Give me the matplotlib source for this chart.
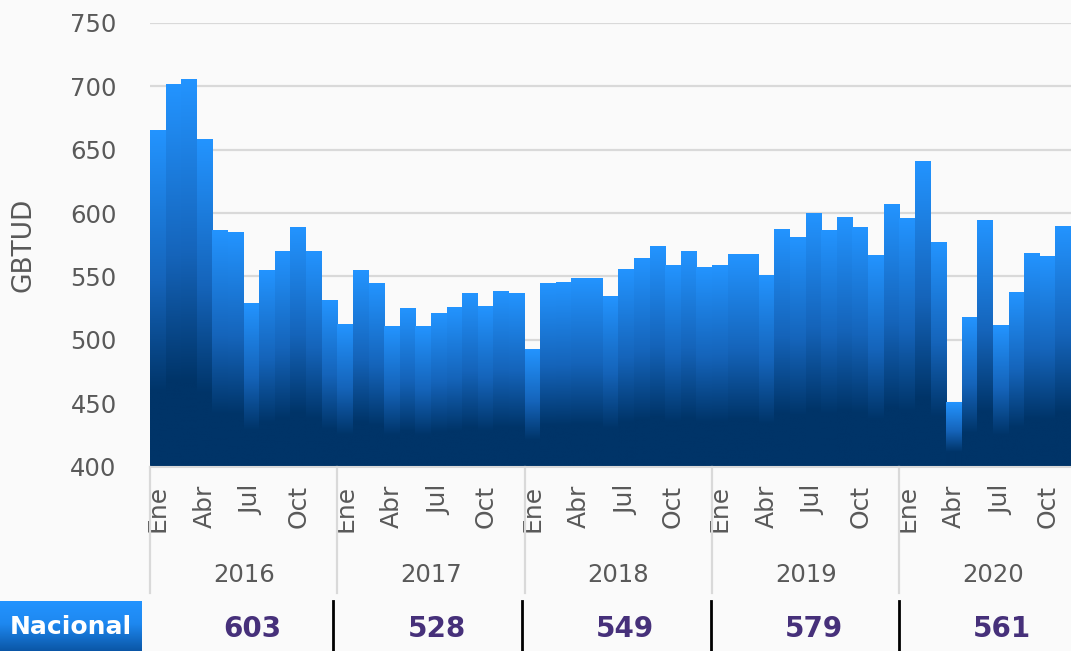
import numpy as np
import matplotlib
matplotlib.use('Agg')
import matplotlib.pyplot as plt
import matplotlib.transforms as mtransforms
from matplotlib.colors import LinearSegmentedColormap
from matplotlib.lines import Line2D

# ---------------- data ----------------
years = ['2016', '2017', '2018', '2019', '2020']
month_names = ['Ene', 'Feb', 'Mar', 'Abr', 'May', 'Jun',
               'Jul', 'Ago', 'Sep', 'Oct', 'Nov', 'Dic']
shown_months = ['Ene', 'Abr', 'Jul', 'Oct']
vals_2016 = [665, 701, 705, 658, 586, 584, 528, 554, 569, 588, 569, 531]
vals_2017 = [512, 554, 544, 510, 524, 510, 520, 525, 536, 526, 538, 536]
vals_2018 = [492, 544, 545, 548, 548, 534, 555, 564, 573, 558, 569, 557]
vals_2019 = [558, 567, 567, 550, 587, 580, 599, 586, 596, 588, 566, 606]
vals_2020 = [595, 640, 576, 450, 517, 594, 511, 537, 568, 565, 589]
annual_avg = [603, 528, 549, 579, 561]
row_label = 'Nacional'
y_label = 'GBTUD'

series = vals_2016 + vals_2017 + vals_2018 + vals_2019 + vals_2020
year_lists = [vals_2016, vals_2017, vals_2018, vals_2019, vals_2020]

# ---------------- style ----------------
W, H = 1071, 651
BG = '#FAFAFA'
GRID = '#D9D9D9'
TXT = '#595959'
PURPLE = '#46307A'
FONT = 'DejaVu Sans'
plt.rcParams['font.family'] = [FONT]

fig = plt.figure(figsize=(W / 100, H / 100), dpi=100, facecolor=BG)
ax_left, ax_top, ax_bottom = 150, 23, 466.5
ax = fig.add_axes([ax_left / W, 1 - ax_bottom / H, (W - ax_left) / W, (ax_bottom - ax_top) / H])
ax.set_facecolor(BG)

ymin, ymax = 400, 750
bar_cmap = LinearSegmentedColormap.from_list(
    'bar', [(0.0, '#2394FF'), (0.45, '#1564BA'), (0.78, '#003468'), (1.0, '#003468')])
grad = np.linspace(0, 1, 512).reshape(-1, 1)

x = np.arange(len(series))
bars = ax.bar(x, np.array(series) - ymin, bottom=ymin, width=1.0, color='none', linewidth=0)
for b, v in zip(bars, series):
    x0 = b.get_x()
    ax.imshow(grad, cmap=bar_cmap, aspect='auto', origin='upper',
              extent=[x0, x0 + b.get_width(), ymin, v], zorder=2,
              interpolation='bilinear')

ax.set_xlim(-0.5, len(series) - 0.5)
ax.set_ylim(ymin, ymax)
ax.set_yticks(np.arange(400, 751, 50))
ax.yaxis.grid(True, color=GRID, lw=1.6)
ax.set_axisbelow(True)
for s in ['top', 'right', 'left']:
    ax.spines[s].set_visible(False)
ax.spines['bottom'].set_color(GRID)
ax.spines['bottom'].set_linewidth(1.5)
ax.spines['bottom'].set_zorder(3)
ax.tick_params(axis='y', length=0, pad=24, labelsize=17.5, labelcolor=TXT)

# month tick labels
tick_pos, tick_lab = [], []
for yi, vals in enumerate(year_lists):
    for mi, m in enumerate(month_names[:len(vals)]):
        if m in shown_months:
            tick_pos.append(yi * 12 + mi)
            tick_lab.append(m)
ax.set_xticks(tick_pos)
ax.set_xticklabels(tick_lab, rotation=90, va='top', ha='center')
ax.tick_params(axis='x', length=0, pad=13, labelsize=18, labelcolor=TXT)

ax.set_ylabel(y_label, fontsize=19, color=TXT)
ax.yaxis.set_label_coords(-(150 - 37) / (W - ax_left), 0.5)

# year labels and separators
blend = mtransforms.blended_transform_factory(ax.transData, fig.transFigure)
for yi, yr in enumerate(years):
    ax.text(yi * 12 + 5.5, 1 - 575 / H, yr, transform=blend, ha='center', va='center',
            fontsize=17.5, color=TXT, clip_on=False)
    sep = Line2D([yi * 12 - 0.5] * 2, [1 - 467 / H, 1 - 593 / H], transform=blend,
                 color=GRID, lw=1.6, clip_on=False)
    ax.add_line(sep)

# ---------------- table row ----------------
cell_ax = fig.add_axes([0, 0, 142 / W, 50 / H])
cell_cmap = LinearSegmentedColormap.from_list('cell', [(0, '#2394FF'), (0.45, '#1E88F0'), (1, '#0A56A6')])
cell_ax.imshow(grad, cmap=cell_cmap, aspect='auto', origin='upper', extent=[0, 1, 0, 1])
cell_ax.set_xlim(0, 1)
cell_ax.set_ylim(0, 1)
cell_ax.axis('off')
cell_ax.text(0.5, 0.47, row_label, ha='center', va='center', color='white',
             fontsize=18, fontweight='bold')

value_x = [252, 437, 625, 814, 1002]
line_x = [333, 522, 711, 899]
for vx, val in zip(value_x, annual_avg):
    fig.text(vx / W, 1 - 629 / H, f'{val}', ha='center', va='center', color=PURPLE,
             fontsize=20, fontweight='bold')
for lx in line_x:
    fig.add_artist(Line2D([lx / W, lx / W], [0, 1 - 601 / H], transform=fig.transFigure,
                          color='black', lw=2))

fig.savefig('out.png', dpi=100, facecolor=BG)
